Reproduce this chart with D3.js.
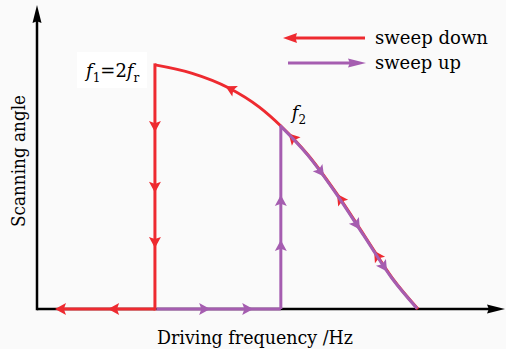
<!DOCTYPE html>
<html>
<head>
<meta charset="utf-8">
<script src="https://cdn.jsdelivr.net/npm/d3@7"></script>
<style>
  html, body { margin: 0; padding: 0; background: #fafafa; }
  svg { display: block; font-family: "DejaVu Serif", serif; }
</style>
</head>
<body>
<div id="chart"></div>
<script>
// resonance curve (arbitrary units 0..100 on both axes)
const freq  = [25.2, 33, 41, 47.5, 52.1, 58, 64, 70, 76, 81.4];
const angle = [80.3, 77.6, 72.7, 66.4, 60.2, 50.5, 38, 24, 10, 0];
const f2Index = 4;

// arrow marks
const downCurveArrows = [41.2, 54.5, 64.7, 72.6];   // red, pointing to lower freq
const upCurveArrows = [60.9, 68.6, 74.4];           // purple, pointing to higher freq
const downDropArrows = [58.2, 38.2, 20.1];          // red, on the jump at f1
const upJumpArrows = [37.5, 22.7];                  // purple, on the jump at f2
const downBaseArrows = [3.85, 15.2];                // red, along the baseline
const upBaseArrows = [37.0, 46.2];                  // purple, along the baseline

const legendItems = ['sweep down', 'sweep up'];
const legendWidths = [113, 86];

const width = 506, height = 349;
const red = '#ee2a30', purple = '#a55db0';

const x = d3.scaleLinear().domain([0, 100]).range([37, 505]);
const y = d3.scaleLinear().domain([0, 100]).range([309, 5]);

const svg = d3.select('#chart').append('svg')
  .attr('width', width)
  .attr('height', height);

function arrowHead(g, px, py, deg, color, len = 11, w = 12, notch = 0.8) {
  // tip at (0,0), pointing along +x, then rotated
  g.append('path')
    .attr('d', `M0,0 L${-len},${-w / 2} L${-len * notch},0 L${-len},${w / 2} Z`)
    .attr('transform', `translate(${px},${py}) rotate(${deg})`)
    .attr('fill', color);
}

// axes
svg.append('line')
  .attr('x1', x(0)).attr('y1', y(0)).attr('x2', x(100) - 8).attr('y2', y(0))
  .attr('stroke', '#000').attr('stroke-width', 2.5);
svg.append('line')
  .attr('x1', x(0)).attr('y1', y(0) + 1.2).attr('x2', x(0)).attr('y2', y(100) + 10)
  .attr('stroke', '#000').attr('stroke-width', 2.5);
arrowHead(svg, x(100), y(0), 0, '#000', 18, 9, 0.9);
arrowHead(svg, x(0), y(100), -90, '#000', 18, 9, 0.9);

const pts = freq.map((f, i) => [f, angle[i]]);
const line = d3.line().x(d => x(d[0])).y(d => y(d[1])).curve(d3.curveMonotoneX);

// red: sweep down
const redG = svg.append('g');
redG.append('path')
  .attr('d', line(pts))
  .attr('fill', 'none').attr('stroke', red).attr('stroke-width', 3);
redG.append('line')
  .attr('x1', x(freq[0])).attr('y1', y(angle[0])).attr('x2', x(freq[0])).attr('y2', y(0))
  .attr('stroke', red).attr('stroke-width', 3).attr('stroke-linecap', 'square');
redG.append('line')
  .attr('x1', x(freq[0])).attr('y1', y(0)).attr('x2', x(downBaseArrows[0]) + 6).attr('y2', y(0))
  .attr('stroke', red).attr('stroke-width', 3);

// purple: sweep up
const purpleG = svg.append('g');
purpleG.append('path')
  .attr('d', line(pts.slice(f2Index)))
  .attr('transform', 'translate(-0.9,-0.6)')
  .attr('fill', 'none').attr('stroke', purple).attr('stroke-width', 3);
purpleG.append('line')
  .attr('x1', x(freq[0]) + 1.5).attr('y1', y(0)).attr('x2', x(freq[f2Index])).attr('y2', y(0))
  .attr('stroke', purple).attr('stroke-width', 3);
purpleG.append('line')
  .attr('x1', x(freq[f2Index])).attr('y1', y(0)).attr('x2', x(freq[f2Index])).attr('y2', y(angle[f2Index]))
  .attr('stroke', purple).attr('stroke-width', 3);

// locate points on the full curve
const fullPath = svg.append('path').attr('d', line(pts)).attr('fill', 'none').attr('stroke', 'none');
const node = fullPath.node();
const total = node.getTotalLength();
function pointAt(f) {
  const target = x(f);
  let lo = 0, hi = total;
  for (let k = 0; k < 40; k++) {
    const mid = (lo + hi) / 2;
    if (node.getPointAtLength(mid).x < target) lo = mid; else hi = mid;
  }
  const p = node.getPointAtLength(lo);
  const p2 = node.getPointAtLength(Math.min(total, lo + 1));
  const p1 = node.getPointAtLength(Math.max(0, lo - 1));
  const deg = Math.atan2(p2.y - p1.y, p2.x - p1.x) * 180 / Math.PI;
  return { x: p.x, y: p.y, deg };
}

downCurveArrows.forEach(f => {
  const p = pointAt(f);
  const r = (p.deg + 180) * Math.PI / 180;
  arrowHead(redG, p.x + Math.cos(r) * 5, p.y + Math.sin(r) * 5, p.deg + 180, red);
});
upCurveArrows.forEach(f => {
  const p = pointAt(f);
  const r = p.deg * Math.PI / 180;
  arrowHead(purpleG, p.x + Math.cos(r) * 5 - 0.9, p.y + Math.sin(r) * 5 - 0.6, p.deg, purple);
});
downDropArrows.forEach(a => arrowHead(redG, x(freq[0]), y(a), 90, red));
upJumpArrows.forEach(a => arrowHead(purpleG, x(freq[f2Index]), y(a), -90, purple));
downBaseArrows.forEach(f => arrowHead(redG, x(f), y(0), 180, red));
upBaseArrows.forEach(f => arrowHead(purpleG, x(f), y(0), 0, purple));

// labels f1 = 2 fr and f2
svg.append('rect')
  .attr('x', 77).attr('y', 52).attr('width', 70).attr('height', 36)
  .attr('fill', '#fff');
const f1Label = svg.append('text')
  .attr('x', 86).attr('y', 77)
  .attr('font-size', 18).attr('fill', '#000');
f1Label.append('tspan').attr('font-style', 'italic').text('f');
f1Label.append('tspan').attr('font-size', 12).attr('dy', 5).text('1');
f1Label.append('tspan').attr('dy', -5).text('=2');
f1Label.append('tspan').attr('font-style', 'italic').text('f');
f1Label.append('tspan').attr('font-size', 12).attr('dy', 5).text('r');

const f2Label = svg.append('text')
  .attr('x', x(freq[f2Index]) + 11).attr('y', 119)
  .attr('font-size', 18).attr('fill', '#000');
f2Label.append('tspan').attr('font-style', 'italic').text('f');
f2Label.append('tspan').attr('font-size', 12).attr('dy', 5).text('2');

// legend
const legend = svg.append('g');
legendItems.forEach((name, i) => {
  const ly = 38 + i * 25;
  const color = i === 0 ? red : purple;
  if (i === 0) {
    legend.append('line').attr('x1', 292).attr('x2', 365).attr('y1', ly).attr('y2', ly)
      .attr('stroke', color).attr('stroke-width', 3);
    arrowHead(legend, 283, ly, 180, color, 14, 10, 0.9);
  } else {
    legend.append('line').attr('x1', 288).attr('x2', 356).attr('y1', ly).attr('y2', ly)
      .attr('stroke', color).attr('stroke-width', 3);
    arrowHead(legend, 366, ly, 0, color, 18, 9, 0.9);
  }
  legend.append('text')
    .attr('x', 375).attr('y', ly + 6)
    .attr('font-size', 19).attr('fill', '#000')
    .attr('textLength', legendWidths[i]).attr('lengthAdjust', 'spacingAndGlyphs')
    .text(name);
});

// axis titles
svg.append('text')
  .attr('x', 157).attr('y', 344)
  .attr('font-size', 19).attr('fill', '#000')
  .attr('textLength', 196).attr('lengthAdjust', 'spacingAndGlyphs')
  .text('Driving frequency /Hz');
svg.append('text')
  .attr('transform', 'translate(25,227) rotate(-90)')
  .attr('font-size', 19).attr('fill', '#000')
  .attr('textLength', 132).attr('lengthAdjust', 'spacingAndGlyphs')
  .text('Scanning angle');
</script>
</body>
</html>
